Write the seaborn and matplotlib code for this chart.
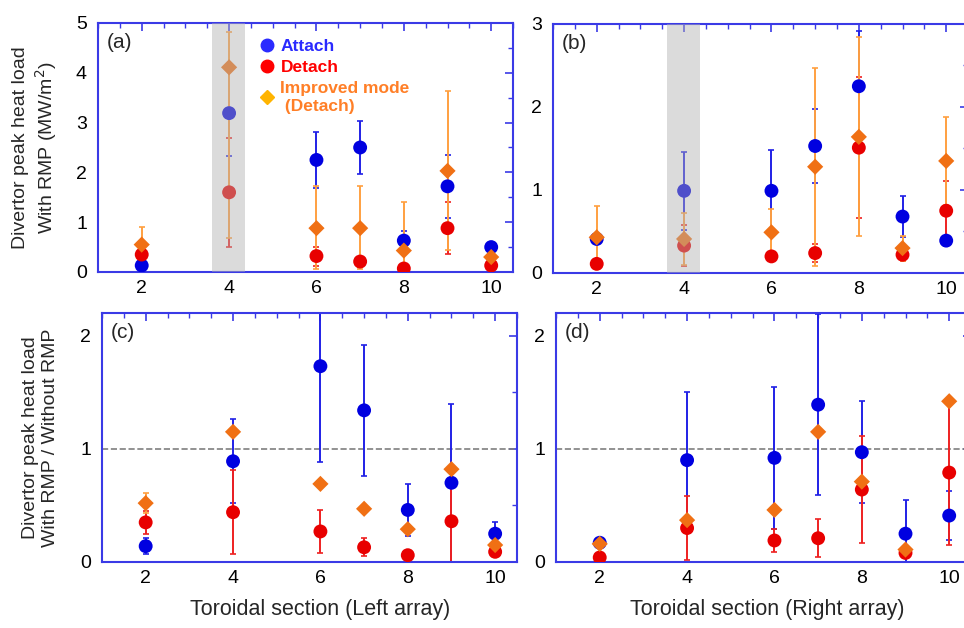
import numpy as np
import pandas as pd
import matplotlib
matplotlib.use('Agg')
import matplotlib.pyplot as plt
import seaborn as sns
from matplotlib.ticker import MultipleLocator
from matplotlib.lines import Line2D

sns.set_style('white')
plt.rcParams['font.family'] = ['Liberation Sans', 'DejaVu Sans']

# toroidal sections measured
sections = [2, 4, 6, 7, 8, 9, 10]

# (a) peak heat load with RMP, left array (MW/m2)
a_att = [0.13, 3.19, 2.25, 2.50, 0.63, 1.72, 0.50]
a_att_err = [0.05, 0.86, 0.57, 0.53, 0.19, 0.63, 0.08]
a_det = [0.35, 1.60, 0.32, 0.21, 0.07, 0.88, 0.13]
a_det_err = [0.10, 1.10, 0.19, 0.10, 0.05, 0.52, 0.05]
a_imp = [0.55, 4.11, 0.88, 0.88, 0.43, 2.03, 0.30]
a_imp_lo = [0.30, 3.42, 0.82, 0.83, 0.43, 1.58, 0.10]
a_imp_hi = [0.35, 0.70, 0.85, 0.85, 0.97, 1.60, 0.10]

# (b) peak heat load with RMP, right array (MW/m2)
b_att = [0.41, 0.99, 0.99, 1.53, 2.25, 0.68, 0.39]
b_att_err = [0.05, 0.47, 0.49, 0.44, 0.67, 0.25, 0.06]
b_det = [0.11, 0.33, 0.20, 0.24, 1.51, 0.22, 0.75]
b_det_err = [0.03, 0.25, 0.05, 0.11, 0.85, 0.08, 0.36]
b_imp = [0.43, 0.41, 0.49, 1.28, 1.64, 0.30, 1.35]
b_imp_err = [0.38, 0.31, 0.28, 1.19, 1.20, 0.15, 0.53]

# (c) ratio with / without RMP, left array
c_att = [0.14, 0.89, 1.73, 1.34, 0.46, 0.70, 0.25]
c_att_err = [0.07, 0.37, 0.85, 0.58, 0.23, 0.70, 0.10]
c_det = [0.35, 0.44, 0.27, 0.13, 0.06, 0.36, 0.09]
c_det_err = [0.10, 0.37, 0.19, 0.08, 0.03, 0.36, 0.04]
c_imp = [0.52, 1.15, 0.69, 0.47, 0.29, 0.82, 0.15]
c_imp_err = [0.09, 0.0, 0.0, 0.0, 0.0, 0.0, 0.0]

# (d) ratio with / without RMP, right array
d_att = [0.17, 0.90, 0.92, 1.39, 0.97, 0.25, 0.41]
d_att_err = [0.04, 0.60, 0.63, 0.80, 0.45, 0.30, 0.22]
d_det = [0.04, 0.30, 0.19, 0.21, 0.64, 0.08, 0.79]
d_det_err = [0.02, 0.28, 0.10, 0.17, 0.47, 0.04, 0.64]
d_imp = [0.16, 0.37, 0.46, 1.15, 0.71, 0.11, 1.42]
d_imp_err = [0.0, 0.0, 0.0, 0.0, 0.0, 0.0, 0.0]

blue = '#0000e0'
red = '#e80000'
orange = '#f07014'
spine_col = '#3a3ae6'
pal = {'Attach': blue, 'Detach': red, 'Improved': orange}
mks = {'Attach': 'o', 'Detach': 'o', 'Improved': 'D'}
szs = {'Attach': 100, 'Detach': 100, 'Improved': 68}


def panel(ax, att, att_err, det, det_err, imp, imp_lo, imp_hi, ymax, tag, band=False, ref=False):
    bars = [(att, att_err, att_err, '#2020e6'),
            (det, det_err, det_err, '#ee2020'),
            (imp, imp_lo, imp_hi, '#ffa040')]
    for vals, lo, hi, c in bars:
        ax.errorbar(sections, vals, yerr=[lo, hi], fmt='none', ecolor=c,
                    elinewidth=1.4, capsize=2.5, capthick=1.2, zorder=2)
    n = len(sections)
    df = pd.DataFrame({'section': sections * 3,
                       'value': list(att) + list(det) + list(imp),
                       'mode': ['Attach'] * n + ['Detach'] * n + ['Improved'] * n})
    sns.scatterplot(data=df, x='section', y='value', hue='mode', style='mode',
                    size='mode', palette=pal, markers=mks, sizes=szs,
                    linewidth=0, legend=False, ax=ax, zorder=3)
    if band:
        ax.axvspan(3.62, 4.36, color='#b1b1b1', alpha=0.45, lw=0, zorder=4)
    if ref:
        ax.axhline(1, color='#7f7f7f', ls='--', lw=1.2, zorder=1)

    ax.set_xlim(1, 10.5)
    ax.set_ylim(0, ymax)
    ax.set_xticks([2, 4, 6, 8, 10])
    ax.xaxis.set_minor_locator(MultipleLocator(0.5))
    ax.yaxis.set_major_locator(MultipleLocator(1))
    ax.yaxis.set_minor_locator(MultipleLocator(0.5))
    ax.tick_params(which='both', direction='in', top=True, right=True,
                   color=spine_col, labelcolor='black', labelsize=14)
    ax.tick_params(which='major', length=6, width=1.2, pad=6)
    ax.tick_params(which='minor', length=3.5, width=1.0)
    ax.tick_params(axis='y', pad=8)
    for s in ax.spines.values():
        s.set_color(spine_col)
        s.set_linewidth(1.5)
    ax.set_xlabel('')
    ax.set_ylabel('')
    ax.text(0.02, 0.92, tag, transform=ax.transAxes, fontsize=15,
            va='center', ha='left', zorder=6)


fig = plt.figure(figsize=(9.64, 6.28), dpi=100)
ax_a = fig.add_axes([0.1017, 0.5669, 0.4305, 0.3965])
ax_b = fig.add_axes([0.5737, 0.5653, 0.4305, 0.3965])
ax_c = fig.add_axes([0.1058, 0.1051, 0.4305, 0.3965])
ax_d = fig.add_axes([0.5768, 0.1051, 0.4305, 0.3965])

panel(ax_a, a_att, a_att_err, a_det, a_det_err, a_imp, a_imp_lo, a_imp_hi, 5, '(a)', band=True)
panel(ax_b, b_att, b_att_err, b_det, b_det_err, b_imp, b_imp_err, b_imp_err, 3, '(b)', band=True)
panel(ax_c, c_att, c_att_err, c_det, c_det_err, c_imp, c_imp_err, c_imp_err, 2.2, '(c)', ref=True)
panel(ax_d, d_att, d_att_err, d_det, d_det_err, d_imp, d_imp_err, d_imp_err, 2.2, '(d)', ref=True)

ax_a.set_ylabel('Divertor peak heat load\nWith RMP (MW/m$^2$)', fontsize=14)
ax_a.yaxis.set_label_coords(-0.094, 0.5)
ax_c.set_ylabel('Divertor peak heat load\nWith RMP / Without RMP', fontsize=14)
ax_c.yaxis.set_label_coords(-0.104, 0.5)
ax_c.set_xlabel('Toroidal section (Left array)', fontsize=15.5)
ax_c.xaxis.set_label_coords(0.525, -0.15)
ax_d.set_xlabel('Toroidal section (Right array)', fontsize=15.5)
ax_d.xaxis.set_label_coords(0.51, -0.15)

handles = [Line2D([], [], ls='none', marker='o', color='#2a2aff', ms=9),
           Line2D([], [], ls='none', marker='o', color='#ff0000', ms=9),
           Line2D([], [], ls='none', marker='D', color='#ffb400', ms=7)]
ax_a.legend(handles, ['Attach', 'Detach', 'Improved mode\n (Detach)'],
            loc='upper left', bbox_to_anchor=(0.36, 0.978), frameon=False,
            handlelength=1.0, handletextpad=0.3, labelspacing=0.35,
            borderaxespad=0.2, labelcolor=['#2a2aff', '#ff0000', '#ff7f27'],
            prop={'size': 12.5, 'weight': 'bold'})

fig.savefig('out.png', dpi=100)
